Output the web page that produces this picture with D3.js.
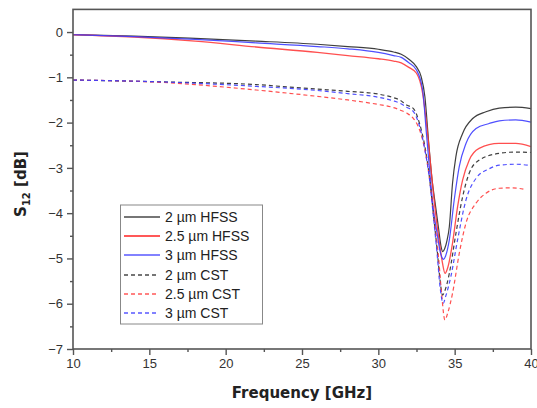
<!DOCTYPE html>
<html>
<head>
<meta charset="utf-8">
<script src="https://cdn.jsdelivr.net/npm/d3@7"></script>
<style>
  html, body { margin: 0; padding: 0; background: #fff; }
  svg { display: block; }
</style>
</head>
<body>
<svg id="chart" width="537" height="408"></svg>
<script>
// ---------- DATA ----------
const xTicks = [10, 15, 20, 25, 30, 35, 40];
const yTicks = [0, -1, -2, -3, -4, -5, -6, -7];
const seriesNames = ["2 µm HFSS", "2.5 µm HFSS", "3 µm HFSS", "2 µm CST", "2.5 µm CST", "3 µm CST"];

// 2 µm HFSS
const f2H = [10, 14, 18, 22, 26, 28, 30, 31, 31.5, 32, 32.5, 32.8, 33.05, 33.3, 33.5, 33.75, 33.95, 34.1, 34.22, 34.35, 34.5, 34.65, 34.86, 35.08, 35.52, 36.18, 37.05, 37.92, 39, 40];
const s2H = [-0.06, -0.09, -0.14, -0.20, -0.27, -0.32, -0.38, -0.44, -0.49, -0.60, -0.77, -0.98, -1.43, -2.45, -3.2, -3.85, -4.35, -4.72, -4.85, -4.78, -4.6, -4.3, -3.34, -2.75, -2.24, -1.91, -1.76, -1.68, -1.66, -1.69];

// 2.5 µm HFSS
const f25H = [10, 14, 18, 22, 26, 28, 30, 31, 31.5, 32, 32.5, 32.9, 33.2, 33.5, 33.75, 34.0, 34.2, 34.37, 34.55, 34.86, 35.19, 35.52, 35.95, 36.6, 37.9, 39, 40];
const s25H = [-0.06, -0.11, -0.20, -0.33, -0.45, -0.52, -0.59, -0.64, -0.68, -0.78, -0.91, -1.35, -2.16, -3.2, -4.0, -4.65, -5.1, -5.33, -5.2, -4.66, -3.86, -3.27, -2.83, -2.57, -2.46, -2.46, -2.53];

// 3 µm HFSS
const f3H = [10, 14, 18, 22, 26, 28, 30, 31, 31.5, 32, 32.5, 32.9, 33.15, 33.4, 33.6, 33.85, 34.05, 34.2, 34.27, 34.4, 34.65, 34.97, 35.3, 35.74, 36.4, 37.26, 37.92, 39, 40];
const s3H = [-0.06, -0.10, -0.16, -0.24, -0.32, -0.37, -0.45, -0.52, -0.56, -0.68, -0.84, -1.28, -2.24, -3.2, -3.9, -4.45, -4.85, -5.0, -5.02, -4.95, -4.59, -3.71, -2.97, -2.46, -2.13, -2.02, -1.96, -1.94, -1.99];

// 2 µm CST
const f2C = [10, 15.7, 22, 24, 26, 28, 30, 31, 31.4, 31.85, 32.3, 32.7, 33.05, 33.37, 33.6, 33.85, 34.05, 34.2, 34.35, 34.65, 35.08, 35.52, 35.95, 36.6, 37.9, 39, 40];
const s2C = [-1.06, -1.10, -1.16, -1.21, -1.26, -1.31, -1.37, -1.45, -1.50, -1.61, -1.69, -2.02, -2.53, -3.27, -4.0, -4.8, -5.5, -5.81, -5.72, -5.33, -4.45, -3.64, -3.12, -2.83, -2.68, -2.65, -2.66];

// 2.5 µm CST
const f25C = [10, 15.7, 22, 26, 28, 30, 31, 31.4, 31.85, 32.3, 32.7, 33.05, 33.37, 33.65, 33.95, 34.15, 34.36, 34.55, 34.86, 35.3, 35.74, 36.4, 37.05, 37.92, 38.8, 39.5];
const s25C = [-1.06, -1.11, -1.28, -1.42, -1.50, -1.60, -1.67, -1.72, -1.79, -1.91, -2.16, -2.6, -3.27, -4.1, -5.0, -5.8, -6.36, -6.2, -5.77, -4.89, -4.22, -3.78, -3.56, -3.45, -3.44, -3.47];

// 3 µm CST
const f3C = [10, 15.7, 22, 26, 28, 30, 31, 31.4, 31.85, 32.3, 32.7, 33.05, 33.37, 33.6, 33.85, 34.05, 34.25, 34.4, 34.75, 35.19, 35.74, 36.4, 37.26, 37.92, 39, 40];
const s3C = [-1.06, -1.10, -1.20, -1.29, -1.36, -1.44, -1.52, -1.57, -1.66, -1.76, -2.08, -2.6, -3.3, -4.05, -4.9, -5.65, -5.99, -5.85, -5.40, -4.59, -3.71, -3.23, -3.02, -2.94, -2.92, -2.95];

const seriesFreq = [f2H, f25H, f3H, f2C, f25C, f3C];
const seriesVals = [s2H, s25H, s3H, s2C, s25C, s3C];

// ---------- STYLE ----------
const colors = ["#2a2a2a", "#ff3c3c", "#3c3cff", "#2a2a2a", "#ff3c3c", "#3c3cff"];
const dashes = [null, null, null, "4,3", "4,3", "4,3"];
const widths = [1.2, 1.3, 1.2, 1.2, 1.2, 1.2];

const svg = d3.select("#chart");
const pL = 73, pR = 531, pT = 9.4, pB = 349;

const x = d3.scaleLinear().domain([10, 40]).range([pL, pR]);
const y = d3.scaleLinear().domain([-7, 0.5]).range([pB, pT]);

const axisColor = "#555";

// series
const line = d3.line().x(d => x(d[0])).y(d => y(d[1])).curve(d3.curveMonotoneX);
const gLines = svg.append("g");
seriesFreq.forEach((fs, i) => {
  const pts = fs.map((f, j) => [f, seriesVals[i][j]]);
  gLines.append("path")
    .attr("d", line(pts))
    .attr("fill", "none")
    .attr("stroke", colors[i])
    .attr("stroke-width", widths[i])
    .attr("stroke-dasharray", dashes[i])
    .attr("opacity", 0.9);
});

// frame
svg.append("rect").attr("x", pL).attr("y", pT).attr("width", pR - pL).attr("height", pB - pT)
  .attr("fill", "none").attr("stroke", axisColor).attr("stroke-width", 1.6);

// x axis
const xAxis = d3.axisBottom(x).tickValues(xTicks).tickFormat(d3.format("d")).tickSize(6).tickPadding(4);
const gx = svg.append("g").attr("transform", `translate(0,${pB})`).call(xAxis);
const xMinor = d3.axisBottom(x).tickValues(d3.range(12.5, 40, 5)).tickFormat("").tickSize(3);
const gxm = svg.append("g").attr("transform", `translate(0,${pB})`).call(xMinor);

// y axis
const yAxis = d3.axisLeft(y).tickValues(yTicks).tickFormat(d3.format("d")).tickSize(6).tickPadding(4);
const gy = svg.append("g").attr("transform", `translate(${pL},0)`).call(yAxis);
const yMinor = d3.axisLeft(y).tickValues(d3.range(-6.5, 0.5, 1)).tickFormat("").tickSize(3);
const gym = svg.append("g").attr("transform", `translate(${pL},0)`).call(yMinor);

[gx, gxm, gy, gym].forEach(g => {
  g.select(".domain").remove();
  g.selectAll(".tick line").attr("stroke", axisColor).attr("stroke-width", 1.4);
  g.selectAll(".tick text").attr("fill", "#333").style("font-family", "'Liberation Sans', Arial, sans-serif").style("font-size", "13px");
});

// axis titles
svg.append("text")
  .attr("x", (pL + pR) / 2).attr("y", 398)
  .attr("text-anchor", "middle")
  .style("font-family", "'DejaVu Sans', Verdana, sans-serif")
  .style("font-weight", "bold").style("font-size", "15px").attr("fill", "#222")
  .text("Frequency [GHz]");

const yt = svg.append("text")
  .attr("transform", "translate(26,184) rotate(-90)")
  .attr("text-anchor", "middle")
  .style("font-family", "'DejaVu Sans', Verdana, sans-serif")
  .style("font-weight", "bold").style("font-size", "15px").attr("fill", "#222");
yt.append("tspan").text("S");
yt.append("tspan").attr("dy", 4).style("font-size", "10px").text("12");
yt.append("tspan").attr("dy", -4).text(" [dB]");

// legend
const lg = svg.append("g");
const lgX = 120.5, lgY = 205, lgW = 142, lgH = 119;
lg.append("rect").attr("x", lgX).attr("y", lgY).attr("width", lgW).attr("height", lgH)
  .attr("fill", "#fff").attr("stroke", "#888").attr("stroke-width", 1);
const rowY = [217, 236, 255, 275, 294, 313];
seriesNames.forEach((name, i) => {
  lg.append("line")
    .attr("x1", 124).attr("x2", dashes[i] ? 156 : 160)
    .attr("y1", rowY[i]).attr("y2", rowY[i])
    .attr("stroke", colors[i]).attr("stroke-width", i === 1 ? 1.8 : 1.3)
    .attr("stroke-dasharray", dashes[i]).attr("opacity", 0.85);
  lg.append("text")
    .attr("x", 165).attr("y", rowY[i] + 5)
    .style("font-family", "'Liberation Sans', Arial, sans-serif").style("font-size", "14px")
    .attr("fill", "#222")
    .text(name);
});
</script>
</body>
</html>
